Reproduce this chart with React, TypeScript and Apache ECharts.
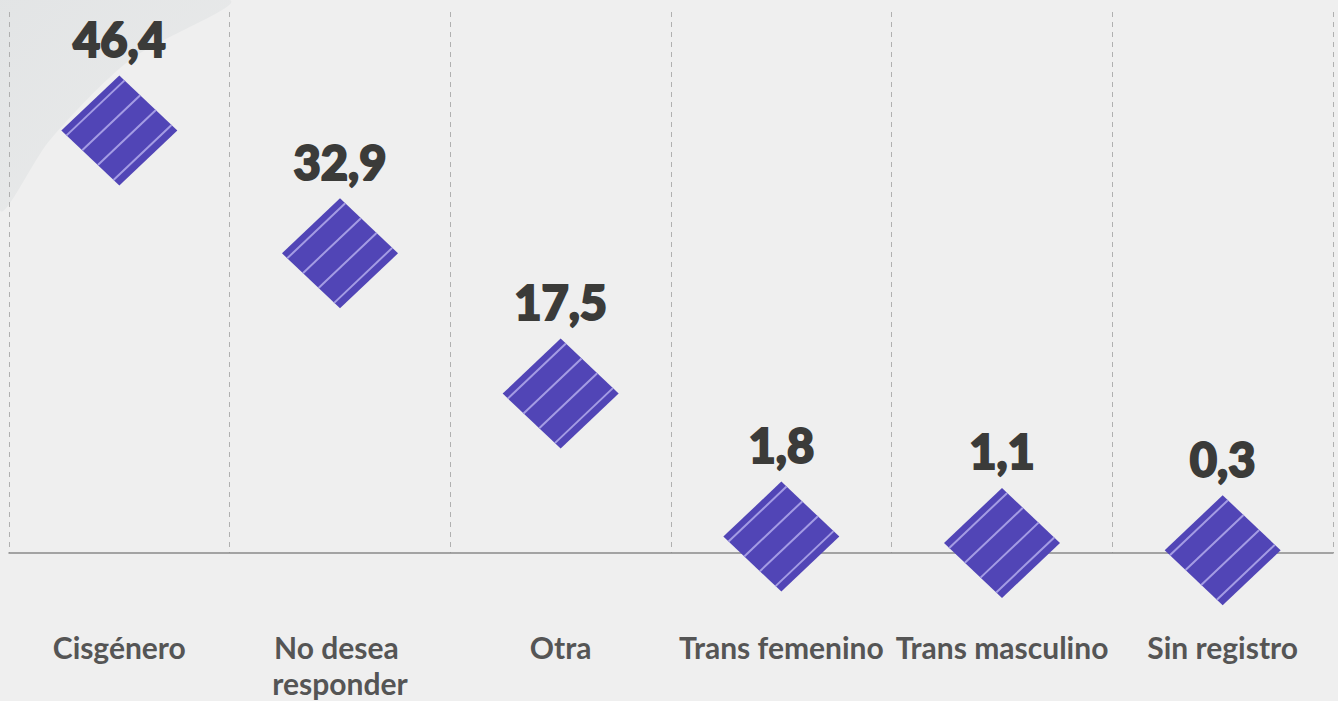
import React, { useEffect, useRef } from "react";
import * as echarts from "echarts";

const categories = ["Cisgénero", "No desea responder", "Otra", "Trans femenino", "Trans masculino", "Sin registro"];
const values = [46.4, 32.9, 17.5, 1.8, 1.1, 0.3];
const valueLabels = ["46,4", "32,9", "17,5", "1,8", "1,1", "0,3"];

export default function App() {
  const ref = useRef<HTMLDivElement>(null);
  useEffect(() => {
    const chart = echarts.init(ref.current!, null, { renderer: "svg" });
    const stripes = [0.09, 0.36, 0.63, 0.9];
    chart.setOption({
      animation: false,
      backgroundColor: "#efefef",
      graphic: [
        {
          type: "polygon",
          silent: true,
          z: -10,
          shape: { points: [[0, 0], [230, 0], [130, 60], [50, 140], [0, 210]], smooth: 0.3 },
          style: {
            fill: {
              type: "linear", x: 0, y: 0, x2: 1, y2: 1,
              colorStops: [
                { offset: 0, color: "#e2e4e5" },
                { offset: 1, color: "#eaebeb" },
              ],
            },
          },
        },
      ],
      grid: { left: 9, right: 5, top: 12, bottom: 147 },
      xAxis: {
        type: "category",
        data: categories,
        boundaryGap: true,
        axisLine: { show: true, lineStyle: { color: "#8a8a8a", width: 1.5 } },
        axisTick: { show: false },
        splitLine: { show: true, lineStyle: { color: "#b0b0b0", type: [5, 5], width: 1 } },
        axisLabel: {
          interval: 0,
          margin: 76,
          fontFamily: "Lato",
          fontWeight: "bold",
          fontSize: 30,
          color: "#555555",
          lineHeight: 36,
          width: 222,
          overflow: "break",
        },
      },
      yAxis: {
        type: "value",
        min: 0,
        max: 59.4,
        show: false,
        splitLine: { show: false },
      },
      series: [
        {
          type: "custom",
          clip: false,
          data: values.map((v, i) => [i, v]),
          encode: { x: 0, y: 1 },
          renderItem: (params: any, api: any) => {
            const c = api.coord([api.value(0), api.value(1)]);
            const hw = 58;
            const hh = 55;
            const T = [c[0], c[1] - hh];
            const R = [c[0] + hw, c[1]];
            const B = [c[0], c[1] + hh];
            const L = [c[0] - hw, c[1]];
            const children: any[] = [
              {
                type: "polygon",
                shape: { points: [T, R, B, L] },
                style: { fill: "#5145b6" },
              },
            ];
            stripes.forEach((f) => {
              children.push({
                type: "line",
                shape: {
                  x1: T[0] + f * (R[0] - T[0]),
                  y1: T[1] + f * (R[1] - T[1]),
                  x2: L[0] + f * (B[0] - L[0]),
                  y2: L[1] + f * (B[1] - L[1]),
                },
                style: { stroke: "#a49ce4", lineWidth: 2 },
              });
            });
            children.push({
              type: "text",
              x: c[0],
              y: c[1] - hh - 13,
              style: {
                text: valueLabels[params.dataIndex],
                fontFamily: "Lato",
                fontWeight: 900,
                fontSize: 47,
                fill: "#3b3b39",
                stroke: "#3b3b39",
                lineWidth: 2,
                align: "center",
                verticalAlign: "bottom",
              },
            });
            return { type: "group", children };
          },
        },
      ],
    });
    return () => chart.dispose();
  }, []);
  return <div ref={ref} style={{ position: "fixed", left: 0, top: 0, width: 1338, height: 701 }} />;
}
